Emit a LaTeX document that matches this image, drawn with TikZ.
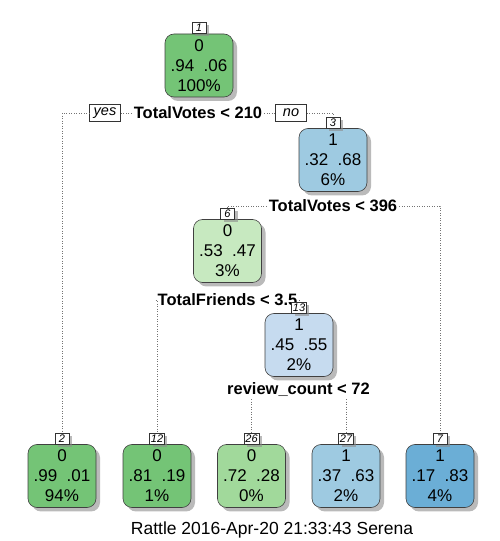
\documentclass[tikz,border=0pt]{standalone}
\usepackage{fontspec}
\setmainfont{Liberation Sans}
\usepackage{tikz}
\usetikzlibrary{positioning,shadows}
\definecolor{gA}{HTML}{74C476}
\definecolor{gB}{HTML}{A1D99B}
\definecolor{gC}{HTML}{C7E9C0}
\definecolor{bA}{HTML}{6BAED6}
\definecolor{bB}{HTML}{9ECAE1}
\definecolor{bC}{HTML}{C6DBEF}
\tikzset{
  tbox/.style    = {draw=black!75, line width=0.6pt, rectangle, rounded corners=9pt,
                    minimum width=68pt, minimum height=63pt, inner sep=2pt, align=center,
                    font=\fontsize{17}{20}\selectfont,
                    drop shadow={shadow xshift=4pt, shadow yshift=-4pt, fill=black!45, opacity=.6}},
  numlab/.style  = {draw=black!80, line width=0.5pt, fill=white, rectangle, inner sep=1.2pt,
                    minimum width=14pt, minimum height=11pt,
                    font=\fontsize{11}{12}\selectfont\itshape,
                    drop shadow={shadow xshift=3pt, shadow yshift=-3pt, fill=black!45, opacity=.6}},
  splitlab/.style= {inner sep=2pt, font=\fontsize{16.5}{19}\selectfont\bfseries},
  yesno/.style   = {draw=black!80, line width=0.5pt, fill=white, rectangle, inner sep=2pt,
                    minimum width=31pt, minimum height=17pt,
                    font=\fontsize{14.5}{16}\selectfont\itshape},
  edge/.style    = {draw=black!55, line width=0.6pt, dash pattern=on 0.7pt off 1.8pt},
}
\begin{document}
\begin{tikzpicture}[x=1pt,y=1pt]
\useasboundingbox (0,0) rectangle (500,541);
% split texts
\node[splitlab] (s1) at (198,428) {TotalVotes < 210};
\node[yesno] (yes) at (105,428) {yes};
\node[yesno] (no) at (291,428) {no};
\node[splitlab] (s3) at (333,335) {TotalVotes < 396};
\node[splitlab] (s6) at (227.5,241) {TotalFriends < 3.5};
\node[splitlab] (s13) at (298.5,151) {review\_count < 72};
% nodes
\node[tbox, fill=gA] (n1) at (199,475.5) {0\\.94\ \ .06\\100\%};
\node[numlab, above=0pt of n1] (l1) {1};
\node[tbox, fill=bB] (n3) at (333,381) {1\\.32\ \ .68\\6\%};
\node[numlab, above=0pt of n3] (l3) {3};
\node[tbox, fill=gC] (n6) at (227.5,290) {0\\.53\ \ .47\\3\%};
\node[numlab, above=0pt of n6] (l6) {6};
\node[tbox, fill=bC] (n13) at (299,196) {1\\.45\ \ .55\\2\%};
\node[numlab, above=0pt of n13] (l13) {13};
\node[tbox, fill=gA] (n2) at (62,65) {0\\.99\ \ .01\\94\%};
\node[numlab, above=0pt of n2] (l2) {2};
\node[tbox, fill=gA] (n12) at (157,65) {0\\.81\ \ .19\\1\%};
\node[numlab, above=0pt of n12] (l12) {12};
\node[tbox, fill=gB] (n26) at (251.5,65) {0\\.72\ \ .28\\0\%};
\node[numlab, above=0pt of n26] (l26) {26};
\node[tbox, fill=bB] (n27) at (346,65) {1\\.37\ \ .63\\2\%};
\node[numlab, above=0pt of n27] (l27) {27};
\node[tbox, fill=bA] (n7) at (440,65) {1\\.17\ \ .83\\4\%};
\node[numlab, above=0pt of n7] (l7) {7};
% connectors
\draw[edge] (yes.west) -| (l2.north);
\draw[edge] (s1.west) -- (yes.east);
\draw[edge] (s1.east) -- (no.west);
\draw[edge] (no.east) -| (l3.north);
\draw[edge] (s3.west) -| (l6.north);
\draw[edge] (s3.east) -| (l7.north);
\draw[edge] (s6.west) -| (l12.north);
\draw[edge] (s6.east) -| (l13.north);
\draw[edge] (l26.north |- s13.south) -- (l26.north);
\draw[edge] (l27.north |- s13.south) -- (l27.north);
\node[font=\fontsize{17.5}{20}\selectfont] (foot) at (272,11) {Rattle 2016-Apr-20 21:33:43 Serena};
\end{tikzpicture}
\end{document}
